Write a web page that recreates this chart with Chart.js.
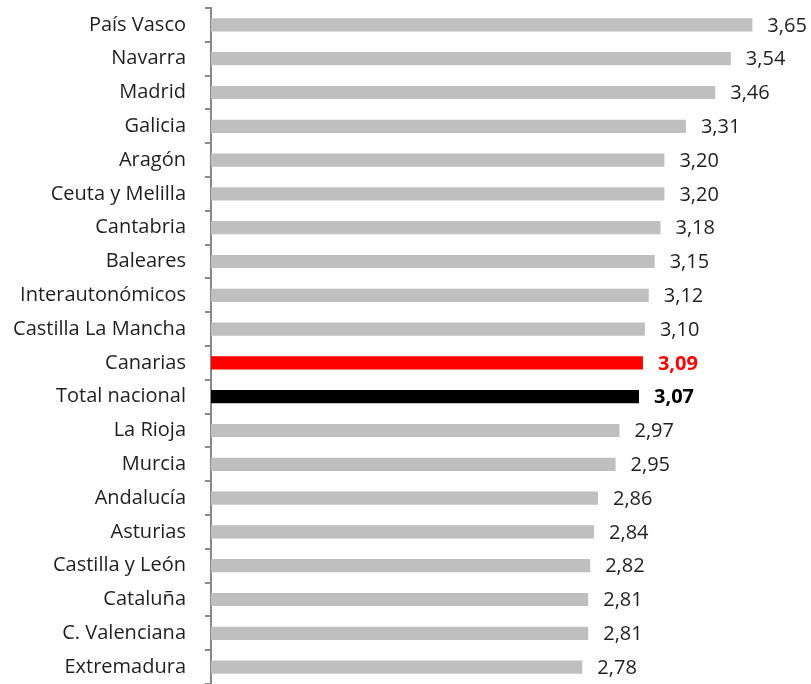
<!DOCTYPE html>
<html>
<head>
<meta charset="utf-8">
<script src="https://cdn.jsdelivr.net/npm/chart.js@4/dist/chart.umd.min.js"></script>
<style>
  html, body { margin: 0; padding: 0; background: #fff; }
  #wrap { width: 811px; height: 684px; position: relative; }
</style>
</head>
<body>
<div id="wrap"><canvas id="chart"></canvas></div>
<script>
// Data
const regions = [
  "País Vasco", "Navarra", "Madrid", "Galicia", "Aragón", "Ceuta y Melilla",
  "Cantabria", "Baleares", "Interautonómicos", "Castilla La Mancha", "Canarias",
  "Total nacional", "La Rioja", "Murcia", "Andalucía", "Asturias",
  "Castilla y León", "Cataluña", "C. Valenciana", "Extremadura"
];
const values = [
  3.65, 3.54, 3.46, 3.31, 3.20, 3.20,
  3.18, 3.15, 3.12, 3.10, 3.09,
  3.07, 2.97, 2.95, 2.86, 2.84,
  2.82, 2.81, 2.81, 2.78
];
const highlightRegion = "Canarias";
const totalRegion = "Total nacional";

const FONT = "'Open Sans', Lato, sans-serif";

// Colours per bar
const barColors = regions.map((r) => {
  if (r === highlightRegion) return "#ff0000";
  if (r === totalRegion) return "#000000";
  return "#bfbfbf";
});

// Value labels to the right of each bar
const valueLabels = {
  id: "valueLabels",
  afterDatasetsDraw(chart) {
    const ctx = chart.ctx;
    const meta = chart.getDatasetMeta(0);
    ctx.save();
    ctx.textBaseline = "middle";
    ctx.textAlign = "left";
    meta.data.forEach((bar, i) => {
      const r = regions[i];
      let color = "#1f1f1f";
      let weight = "normal";
      if (r === highlightRegion) { color = "#ff0000"; weight = "bold"; }
      if (r === totalRegion) { color = "#000000"; weight = "bold"; }
      ctx.font = weight + " 20px " + FONT;
      ctx.fillStyle = color;
      ctx.fillText(values[i].toFixed(2).replace(".", ","), bar.x + 15, bar.y + 1);
    });
    ctx.restore();
  }
};

new Chart(document.getElementById("chart"), {
  type: "bar",
  data: {
    labels: regions,
    datasets: [{
      data: values,
      backgroundColor: barColors,
      borderWidth: 0,
      barPercentage: 0.39,
      categoryPercentage: 1
    }]
  },
  options: {
    indexAxis: "y",
    responsive: true,
    maintainAspectRatio: false,
    animation: false,
    layout: { padding: { top: 8, right: 0, bottom: 0, left: 0 } },
    plugins: {
      legend: { display: false },
      tooltip: { enabled: false }
    },
    scales: {
      x: {
        display: false,
        min: 0.88,
        max: 3.95
      },
      y: {
        afterFit(scale) {
          scale.width = 211;
          // no extra room for the first / last label
          scale.paddingTop = 0;
          scale.paddingBottom = 0;
        },
        border: { display: true, color: "#888888", width: 2 },
        grid: {
          drawOnChartArea: false,
          drawTicks: true,
          tickLength: 6,
          color: "#888888",
          lineWidth: 2,
          offset: true
        },
        ticks: {
          padding: 19,
          color: "#1f1f1f",
          font: { family: FONT, size: 20 }
        }
      }
    }
  },
  plugins: [valueLabels]
});
</script>
</body>
</html>
